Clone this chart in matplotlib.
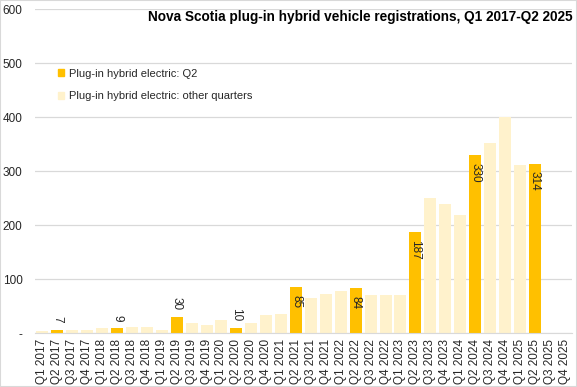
import matplotlib
matplotlib.use('Agg')
import matplotlib.pyplot as plt
from matplotlib.patches import Patch, Rectangle
import numpy as np

# quarters Q1 2017 .. Q4 2025
quarters = [f"Q{q} {y}" for y in range(2017, 2026) for q in range(1, 5)]

# registrations (Q3/Q4 2025 not yet available)
registrations = [5, 7, 6, 6, 10, 9, 12, 12,
                 7, 30, 20, 16, 25, 10, 20, 33,
                 35, 85, 66, 73, 78, 84, 71, 71,
                 71, 187, 250, 239, 219, 330, 353, 400,
                 312, 314, np.nan, np.nan]

q2_colour = '#FFC000'
other_colour = '#FFF2CC'

plt.rcParams['font.family'] = ['Liberation Sans', 'DejaVu Sans']

fig = plt.figure(figsize=(5.77, 3.87), dpi=100)
ax = fig.add_axes([35 / 577, 53.7 / 387, 537 / 577, 324 / 387])

x = np.arange(len(quarters))
vals = np.array(registrations, dtype=float)
is_q2 = np.array([q.startswith('Q2') for q in quarters])
colours = [q2_colour if b else other_colour for b in is_q2]

ax.bar(x, np.nan_to_num(vals), width=0.8, color=colours, zorder=2)

# data labels for the Q2 bars
for xi, v, b in zip(x, vals, is_q2):
    if not b or np.isnan(v):
        continue
    if v < 50:
        ax.text(xi, v + 13, f"{int(v)}", rotation=270, ha='center', va='bottom',
                fontsize=8.5, color='#262626')
    else:
        ax.text(xi, v - 14, f"{int(v)}", rotation=270, ha='center', va='top',
                fontsize=8.5, color='#262626')

ax.set_xlim(-0.5, len(quarters) - 0.5)
ax.set_ylim(0, 600)
ax.set_yticks(range(0, 601, 100))
ax.set_yticklabels(['-'] + [str(v) for v in range(100, 601, 100)])
ax.set_xticks(x)
ax.set_xticklabels(quarters, rotation=90)
ax.tick_params(axis='both', length=0, labelsize=8.5, colors='#262626')
ax.tick_params(axis='y', pad=9)
ax.tick_params(axis='x', pad=4)
ax.grid(axis='y', color='#D9D9D9', linewidth=0.9, zorder=0)
for side in ['top', 'right', 'left']:
    ax.spines[side].set_visible(False)
ax.spines['bottom'].set_color('#D9D9D9')

# title top right
fig.text(573 / 577, 1 - 17 / 387, 'Nova Scotia plug-in hybrid vehicle registrations, Q1 2017-Q2 2025',
         ha='right', va='center', fontsize=9.8, fontweight='bold', color='black')

handles = [Patch(color=q2_colour), Patch(color=other_colour)]
ax.legend(handles, ['Plug-in hybrid electric: Q2', 'Plug-in hybrid electric: other quarters'],
          loc='upper left', bbox_to_anchor=(52 / 577, 1 - 63 / 387), bbox_transform=fig.transFigure,
          frameon=False, fontsize=8, handlelength=0.6, handleheight=0.6, handletextpad=0.4,
          labelspacing=1.15, borderpad=0, labelcolor='#262626')

# chart border
fig.patches.append(Rectangle((0, 0), 1, 1, transform=fig.transFigure, fill=False,
                             edgecolor='#D9D9D9', linewidth=1.5))

plt.savefig('out.png', dpi=100)
